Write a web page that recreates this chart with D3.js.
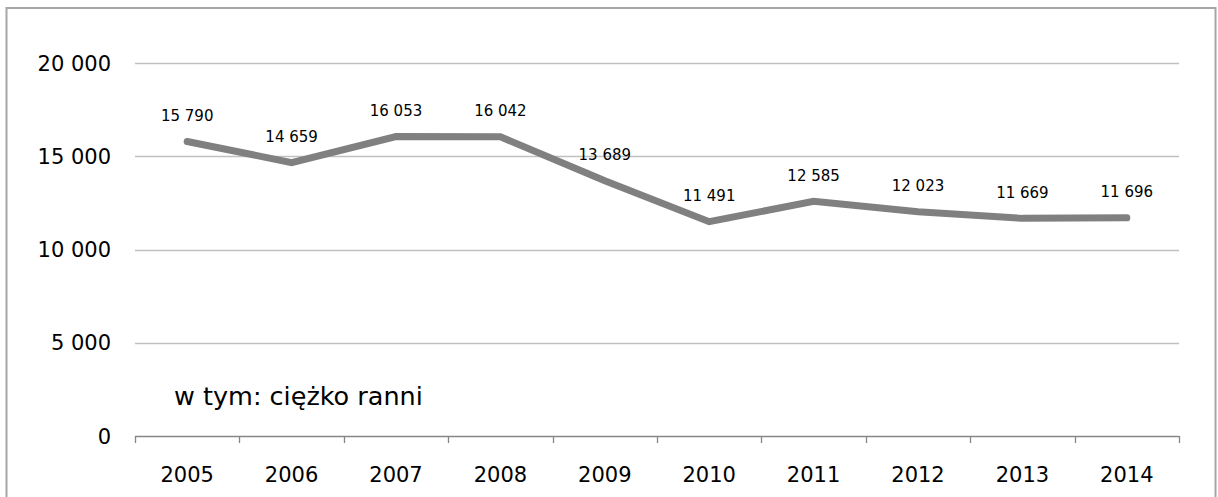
<!DOCTYPE html>
<html>
<head>
<meta charset="utf-8">
<script src="https://cdn.jsdelivr.net/npm/d3@7"></script>
<style>
  html, body { margin: 0; padding: 0; background: #fff; }
  svg { display: block; }
  text { font-family: "DejaVu Sans", Verdana, sans-serif; fill: #000; }
</style>
</head>
<body>
<svg id="chart" width="1218" height="497"></svg>
<script>
// Ciężko ranni w wypadkach drogowych, 2005–2014
const years = ["2005", "2006", "2007", "2008", "2009", "2010", "2011", "2012", "2013", "2014"];
const injured = [15790, 14659, 16053, 16042, 13689, 11491, 12585, 12023, 11669, 11696];
const yTicks = [0, 5000, 10000, 15000, 20000];
const seriesTitle = "w tym: ciężko ranni";

const svg = d3.select("#chart");
const W = 1218, H = 497;
const plot = { left: 135, right: 1179, top: 63, bottom: 436 };

// Outer frame
svg.append("rect")
  .attr("x", 6.5).attr("y", 8)
  .attr("width", 1209).attr("height", 500)
  .attr("fill", "none")
  .attr("stroke", "#a6a6a6")
  .attr("stroke-width", 2);

const x = d3.scaleBand().domain(years).range([plot.left, plot.right]).padding(0);
const y = d3.scaleLinear().domain([0, 20000]).range([plot.bottom, plot.top]);

const fmt = v => d3.format(",")(v).replace(/,/g, " ");

// Horizontal gridlines
svg.append("g")
  .selectAll("line")
  .data(yTicks.filter(t => t > 0))
  .join("line")
  .attr("x1", plot.left).attr("x2", plot.right)
  .attr("y1", d => Math.round(y(d)) + 0.5).attr("y2", d => Math.round(y(d)) + 0.5)
  .attr("stroke", "#c0c0c0")
  .attr("stroke-width", 1.3);

// Y axis labels
svg.append("g")
  .selectAll("text")
  .data(yTicks)
  .join("text")
  .attr("x", 111)
  .attr("y", d => y(d))
  .attr("dy", "0.36em")
  .attr("text-anchor", "end")
  .attr("font-size", 21)
  .text(d => fmt(d));

// Category axis with tick marks at band boundaries
const xAxis = svg.append("g");
xAxis.append("line")
  .attr("x1", plot.left).attr("x2", plot.right)
  .attr("y1", plot.bottom + 0.5).attr("y2", plot.bottom + 0.5)
  .attr("stroke", "#868686").attr("stroke-width", 1.3);
const boundaries = years.map(d => x(d)).concat([x(years[years.length - 1]) + x.bandwidth()]);
xAxis.selectAll("line.tick")
  .data(boundaries)
  .join("line")
  .attr("class", "tick")
  .attr("x1", d => Math.round(d) + 0.5).attr("x2", d => Math.round(d) + 0.5)
  .attr("y1", plot.bottom).attr("y2", plot.bottom + 7)
  .attr("stroke", "#868686").attr("stroke-width", 1.3);
xAxis.selectAll("text")
  .data(years)
  .join("text")
  .attr("x", d => x(d) + x.bandwidth() / 2)
  .attr("y", 482)
  .attr("text-anchor", "middle")
  .attr("font-size", 21)
  .text(d => d);

// Series line
const line = d3.line()
  .x((d, i) => x(years[i]) + x.bandwidth() / 2)
  .y(d => y(d));
svg.append("path")
  .datum(injured)
  .attr("d", line)
  .attr("fill", "none")
  .attr("stroke", "#808080")
  .attr("stroke-width", 7)
  .attr("stroke-linecap", "round")
  .attr("stroke-linejoin", "miter");

// Value labels
svg.append("g")
  .selectAll("text")
  .data(injured)
  .join("text")
  .attr("x", (d, i) => x(years[i]) + x.bandwidth() / 2)
  .attr("y", d => y(d) - 20.5)
  .attr("text-anchor", "middle")
  .attr("font-size", 15)
  .text(d => fmt(d));

// Series caption
svg.append("text")
  .attr("x", 174)
  .attr("y", 405)
  .attr("font-size", 25.5)
  .text(seriesTitle);
</script>
</body>
</html>
